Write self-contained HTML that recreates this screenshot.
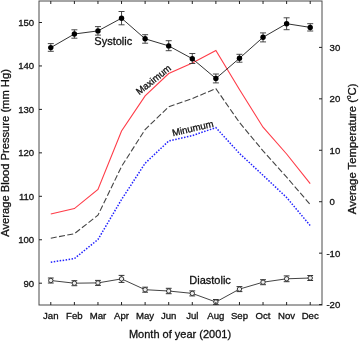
<!DOCTYPE html><html><head><meta charset="utf-8"><style>html,body{margin:0;padding:0;background:#fff;overflow:hidden}svg{display:block;will-change:transform}</style></head><body><svg width="359" height="341" viewBox="0 0 359 341" style="font-family:'Liberation Sans',sans-serif">
<style>text{stroke:#111;stroke-width:0.3px}</style>
<rect width="359" height="341" fill="#fff"/>
<polyline points="50.79,214.00 74.38,208.60 97.96,189.50 121.54,131.00 145.12,95.90 168.71,73.50 192.29,63.00 215.88,50.40 239.46,89.50 263.04,127.20 286.62,154.00 310.21,183.60" fill="none" stroke="#ff3c48" stroke-width="1.1"/>
<polyline points="50.79,238.20 74.38,233.70 97.96,215.20 121.54,166.50 145.12,129.50 168.71,106.80 192.29,98.50 215.88,88.60 239.46,122.50 263.04,150.80 286.62,177.20 310.21,204.50" fill="none" stroke="#444" stroke-width="1.1" stroke-dasharray="6 2.4"/>
<polyline points="50.79,262.20 74.38,258.60 97.96,239.50 121.54,199.50 145.12,163.30 168.71,141.00 192.29,135.60 215.88,127.60 239.46,153.40 263.04,175.30 286.62,197.50 310.21,225.60" fill="none" stroke="#2222ff" stroke-width="1.5" stroke-dasharray="1.5 1.5"/>
<polyline points="50.79,47.60 74.38,34.00 97.96,30.90 121.54,18.20 145.12,38.80 168.71,45.90 192.29,58.70 215.88,78.50 239.46,58.30 263.04,37.30 286.62,23.70 310.21,27.40" fill="none" stroke="#333" stroke-width="1"/>
<path d="M50.79 43.6V51.3M47.79 43.6h6M47.79 51.3h6" stroke="#333" stroke-width="0.9" fill="none"/>
<circle cx="50.79" cy="47.6" r="2.7" fill="#000"/>
<path d="M74.38 29.8V38.2M71.38 29.8h6M71.38 38.2h6" stroke="#333" stroke-width="0.9" fill="none"/>
<circle cx="74.38" cy="34" r="2.7" fill="#000"/>
<path d="M97.96 26.6V35.1M94.96 26.6h6M94.96 35.1h6" stroke="#333" stroke-width="0.9" fill="none"/>
<circle cx="97.96" cy="30.9" r="2.7" fill="#000"/>
<path d="M121.54 11.5V24.8M118.54 11.5h6M118.54 24.8h6" stroke="#333" stroke-width="0.9" fill="none"/>
<circle cx="121.54" cy="18.2" r="2.7" fill="#000"/>
<path d="M145.12 34.7V43.2M142.12 34.7h6M142.12 43.2h6" stroke="#333" stroke-width="0.9" fill="none"/>
<circle cx="145.12" cy="38.8" r="2.7" fill="#000"/>
<path d="M168.71 40.7V50.7M165.71 40.7h6M165.71 50.7h6" stroke="#333" stroke-width="0.9" fill="none"/>
<circle cx="168.71" cy="45.9" r="2.7" fill="#000"/>
<path d="M192.29 53.5V63.5M189.29 53.5h6M189.29 63.5h6" stroke="#333" stroke-width="0.9" fill="none"/>
<circle cx="192.29" cy="58.7" r="2.7" fill="#000"/>
<path d="M215.88 74V82.9M212.88 74h6M212.88 82.9h6" stroke="#333" stroke-width="0.9" fill="none"/>
<circle cx="215.88" cy="78.5" r="2.7" fill="#000"/>
<path d="M239.46 54.3V62.2M236.46 54.3h6M236.46 62.2h6" stroke="#333" stroke-width="0.9" fill="none"/>
<circle cx="239.46" cy="58.3" r="2.7" fill="#000"/>
<path d="M263.04 32.9V41.9M260.04 32.9h6M260.04 41.9h6" stroke="#333" stroke-width="0.9" fill="none"/>
<circle cx="263.04" cy="37.3" r="2.7" fill="#000"/>
<path d="M286.62 17.8V29.7M283.62 17.8h6M283.62 29.7h6" stroke="#333" stroke-width="0.9" fill="none"/>
<circle cx="286.62" cy="23.7" r="2.7" fill="#000"/>
<path d="M310.21 23.7V31M307.21 23.7h6M307.21 31h6" stroke="#333" stroke-width="0.9" fill="none"/>
<circle cx="310.21" cy="27.4" r="2.7" fill="#000"/>
<polyline points="50.79,280.50 74.38,283.20 97.96,282.90 121.54,278.90 145.12,289.70 168.71,291.00 192.29,293.40 215.88,302.00 239.46,289.10 263.04,282.20 286.62,278.80 310.21,278.00" fill="none" stroke="#444" stroke-width="1"/>
<path d="M47.89 278.00h5.8M47.89 283.00h5.8M50.79 278.00V283.00" stroke="#333" stroke-width="1" fill="none"/>
<circle cx="50.79" cy="280.5" r="2.2" fill="#eee" stroke="#333" stroke-width="1"/>
<path d="M71.47 280.70h5.8M71.47 285.70h5.8M74.38 280.70V285.70" stroke="#333" stroke-width="1" fill="none"/>
<circle cx="74.38" cy="283.2" r="2.2" fill="#eee" stroke="#333" stroke-width="1"/>
<path d="M95.06 280.40h5.8M95.06 285.40h5.8M97.96 280.40V285.40" stroke="#333" stroke-width="1" fill="none"/>
<circle cx="97.96" cy="282.9" r="2.2" fill="#eee" stroke="#333" stroke-width="1"/>
<path d="M118.64 275.40h5.8M118.64 282.40h5.8M121.54 275.40V282.40" stroke="#333" stroke-width="1" fill="none"/>
<circle cx="121.54" cy="278.9" r="2.2" fill="#eee" stroke="#333" stroke-width="1"/>
<path d="M142.22 287.20h5.8M142.22 292.20h5.8M145.12 287.20V292.20" stroke="#333" stroke-width="1" fill="none"/>
<circle cx="145.12" cy="289.7" r="2.2" fill="#eee" stroke="#333" stroke-width="1"/>
<path d="M165.81 288.30h5.8M165.81 293.70h5.8M168.71 288.30V293.70" stroke="#333" stroke-width="1" fill="none"/>
<circle cx="168.71" cy="291.0" r="2.2" fill="#eee" stroke="#333" stroke-width="1"/>
<path d="M189.39 290.90h5.8M189.39 295.90h5.8M192.29 290.90V295.90" stroke="#333" stroke-width="1" fill="none"/>
<circle cx="192.29" cy="293.4" r="2.2" fill="#eee" stroke="#333" stroke-width="1"/>
<path d="M212.97 299.50h5.8M212.97 304.50h5.8M215.88 299.50V304.50" stroke="#333" stroke-width="1" fill="none"/>
<circle cx="215.88" cy="302" r="2.2" fill="#eee" stroke="#333" stroke-width="1"/>
<path d="M236.56 286.60h5.8M236.56 291.60h5.8M239.46 286.60V291.60" stroke="#333" stroke-width="1" fill="none"/>
<circle cx="239.46" cy="289.1" r="2.2" fill="#eee" stroke="#333" stroke-width="1"/>
<path d="M260.14 279.70h5.8M260.14 284.70h5.8M263.04 279.70V284.70" stroke="#333" stroke-width="1" fill="none"/>
<circle cx="263.04" cy="282.2" r="2.2" fill="#eee" stroke="#333" stroke-width="1"/>
<path d="M283.73 275.90h5.8M283.73 281.70h5.8M286.62 275.90V281.70" stroke="#333" stroke-width="1" fill="none"/>
<circle cx="286.62" cy="278.8" r="2.2" fill="#eee" stroke="#333" stroke-width="1"/>
<path d="M307.31 275.50h5.8M307.31 280.50h5.8M310.21 275.50V280.50" stroke="#333" stroke-width="1" fill="none"/>
<circle cx="310.21" cy="278.0" r="2.2" fill="#eee" stroke="#333" stroke-width="1"/>
<rect x="39.0" y="1.0" width="283.0" height="304.0" fill="none" stroke="#4a4a4a" stroke-width="1"/>
<path d="M50.79 1.0v3M50.79 305.0v-3M74.38 1.0v3M74.38 305.0v-3M97.96 1.0v3M97.96 305.0v-3M121.54 1.0v3M121.54 305.0v-3M145.12 1.0v3M145.12 305.0v-3M168.71 1.0v3M168.71 305.0v-3M192.29 1.0v3M192.29 305.0v-3M215.88 1.0v3M215.88 305.0v-3M239.46 1.0v3M239.46 305.0v-3M263.04 1.0v3M263.04 305.0v-3M286.62 1.0v3M286.62 305.0v-3M310.21 1.0v3M310.21 305.0v-3M39.0 283.20h3M39.0 239.75h3M39.0 196.30h3M39.0 152.85h3M39.0 109.40h3M39.0 65.95h3M39.0 22.50h3M322.0 304.60h-3M322.0 253.16h-3M322.0 201.72h-3M322.0 150.28h-3M322.0 98.84h-3M322.0 47.40h-3" stroke="#222" stroke-width="1" fill="none"/>
<text x="34.2" y="286.70" font-size="9.6" text-anchor="end" fill="#111">90</text>
<text x="34.2" y="243.25" font-size="9.6" text-anchor="end" fill="#111">100</text>
<text x="34.2" y="199.80" font-size="9.6" text-anchor="end" fill="#111">110</text>
<text x="34.2" y="156.35" font-size="9.6" text-anchor="end" fill="#111">120</text>
<text x="34.2" y="112.90" font-size="9.6" text-anchor="end" fill="#111">130</text>
<text x="34.2" y="69.45" font-size="9.6" text-anchor="end" fill="#111">140</text>
<text x="34.2" y="26.00" font-size="9.6" text-anchor="end" fill="#111">150</text>
<text x="329.6" y="308.10" font-size="9.6" text-anchor="end" fill="#111">-</text>
<text x="329.6" y="308.10" font-size="9.6" fill="#111">20</text>
<text x="329.6" y="256.66" font-size="9.6" text-anchor="end" fill="#111">-</text>
<text x="329.6" y="256.66" font-size="9.6" fill="#111">10</text>
<text x="329.6" y="205.22" font-size="9.6" fill="#111">0</text>
<text x="329.6" y="153.78" font-size="9.6" fill="#111">10</text>
<text x="329.6" y="102.34" font-size="9.6" fill="#111">20</text>
<text x="329.6" y="50.90" font-size="9.6" fill="#111">30</text>
<text x="50.79" y="318.6" font-size="9.6" text-anchor="middle" fill="#111">Jan</text>
<text x="74.38" y="318.6" font-size="9.6" text-anchor="middle" fill="#111">Feb</text>
<text x="97.96" y="318.6" font-size="9.6" text-anchor="middle" fill="#111">Mar</text>
<text x="121.54" y="318.6" font-size="9.6" text-anchor="middle" fill="#111">Apr</text>
<text x="145.12" y="318.6" font-size="9.6" text-anchor="middle" fill="#111">May</text>
<text x="168.71" y="318.6" font-size="9.6" text-anchor="middle" fill="#111">Jun</text>
<text x="192.29" y="318.6" font-size="9.6" text-anchor="middle" fill="#111">Jul</text>
<text x="215.88" y="318.6" font-size="9.6" text-anchor="middle" fill="#111">Aug</text>
<text x="239.46" y="318.6" font-size="9.6" text-anchor="middle" fill="#111">Sep</text>
<text x="263.04" y="318.6" font-size="9.6" text-anchor="middle" fill="#111">Oct</text>
<text x="286.62" y="318.6" font-size="9.6" text-anchor="middle" fill="#111">Nov</text>
<text x="310.21" y="318.6" font-size="9.6" text-anchor="middle" fill="#111">Dec</text>
<text x="180" y="337.6" font-size="11" text-anchor="middle" fill="#111">Month of year (2001)</text>
<text transform="translate(9,152.95) rotate(-90)" font-size="11.2" text-anchor="middle" fill="#111">Average Blood Pressure (mm Hg)</text>
<text transform="translate(356.3,148.85) rotate(-90)" font-size="11.3" text-anchor="middle" fill="#111">Average Temperature (<tspan font-size="6.5" dy="-5">o</tspan><tspan dy="5">C)</tspan></text>
<text x="94.3" y="44.6" font-size="11" fill="#111">Systolic</text>
<text x="189.3" y="284.1" font-size="11" fill="#111">Diastolic</text>
<text transform="translate(139.3,95.2) rotate(-38.5)" font-size="9.6" fill="#111">Maximum</text>
<text transform="translate(173,136.2) rotate(-13)" font-size="9.6" fill="#111">Minumum</text>
</svg></body></html>
